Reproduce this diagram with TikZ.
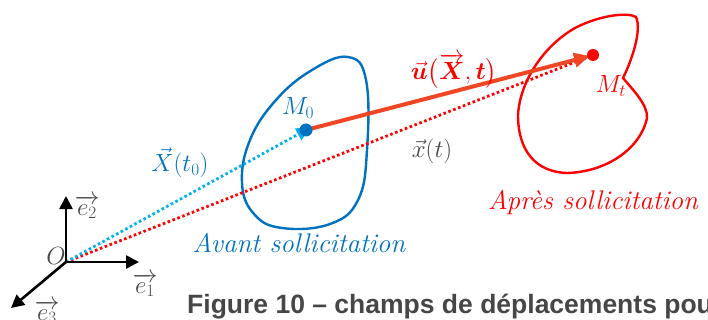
\documentclass[tikz,border=0pt]{standalone}
\usepackage{amsmath,bm}
\usepackage{fontspec}
\newfontfamily\capfont{Liberation Sans}
\usetikzlibrary{arrows.meta}
\definecolor{cblue}{RGB}{0,112,192}
\definecolor{ccyan}{RGB}{0,176,240}
\definecolor{cred}{RGB}{255,0,0}
\definecolor{corange}{RGB}{240,70,35}
\definecolor{cgray}{RGB}{70,70,70}
\begin{document}
\begin{tikzpicture}[x=1pt,y=-1pt,
  axis/.style={line width=2.6pt,-{Triangle[length=13pt,width=13pt]}},
  dotline/.style={line width=2.8pt,dash pattern=on 2.6pt off 2.6pt},
  blob/.style={line width=2.4pt},
  lab/.style={font=\fontsize{23}{27}\selectfont, inner sep=0pt},
  labm/.style={font=\fontsize{25}{29}\selectfont, inner sep=0pt},
  itl/.style={font=\fontsize{27}{31}\selectfont\itshape, inner sep=0pt}]
\useasboundingbox (0,0) rectangle (708,320);
\clip (0,0) rectangle (708,320);
% coordinates
\coordinate (O) at (66,262);
\coordinate (E1) at (139,262);
\coordinate (E2) at (66,196);
\coordinate (E3) at (11,308);
\coordinate (M0) at (306,130);
\coordinate (Mt) at (593,55);
% blobs
\draw[blob,cblue] plot[smooth cycle,tension=0.7] coordinates {(348,57) (366,80) (367,150) (358,200) (330,224) (282,228) (254,214) (242,183) (250,140) (276,100) (312,70)};
\draw[blob,cred] (636,17) .. controls (642,30) and (632,60) .. (623,78)
  .. controls (633,90) and (648,105) .. (647,118)
  .. controls (640,150) and (605,172) .. (567,173)
  .. controls (535,172) and (518,150) .. (518,115)
  .. controls (520,80) and (545,45) .. (575,28)
  .. controls (600,15) and (628,12) .. (636,17) -- cycle;
% dotted lines
\draw[dotline,cred] (O) -- (Mt);
\draw[dotline,ccyan,-{Triangle[length=13pt,width=13pt,sep=-4pt]}] (O) -- (M0);
% displacement
\draw[line width=4pt,corange,-{Triangle[length=16pt,width=14pt]}] (M0) -- ([shift={(-3,1)}]Mt);
\fill[cblue] (M0) circle (6.5pt);
\fill[cred] (Mt) circle (6pt);
% axes
\draw[axis] (O) -- (E1);
\draw[axis] (O) -- (E2);
\draw[axis] (O) -- (E3);
% labels
\node[lab,text=cgray] (lO) at (56,256) {$O$};
\node[lab,text=cgray] (le1) at (145,285) {$\overrightarrow{e_1}$};
\node[lab,text=cgray] (le2) at (87,207) {$\overrightarrow{e_2}$};
\node[lab,text=cgray] (le3) at (47,312) {$\overrightarrow{e_3}$};
\node[labm,text=cblue] (lM0) at (298,108) {$M_0$};
\node[labm,text=cred] (lMt) at (611,86) {$M_t$};
\node[lab,text=cblue] (lX) at (180,163) {$\vec{X}(t_0)$};
\node[lab,text=cgray] (lx) at (432,151) {$\vec{x}(t)$};
\node[lab,text=cred] (lu) at (454,71) {$\vec{\bm u}\bigl(\overrightarrow{\bm X},\bm t\bigr)$};
\node[itl,text=cblue] (lav) at (299,243) {Avant sollicitation};
\node[itl,text=cred] (lap) at (593,202) {Après sollicitation};
\node[anchor=base west,inner sep=0pt,text=cgray,font=\capfont\bfseries\fontsize{26.5}{30}\selectfont] (cap) at (187,313) {Figure 10 – champs de déplacements pour};
\end{tikzpicture}
\end{document}
